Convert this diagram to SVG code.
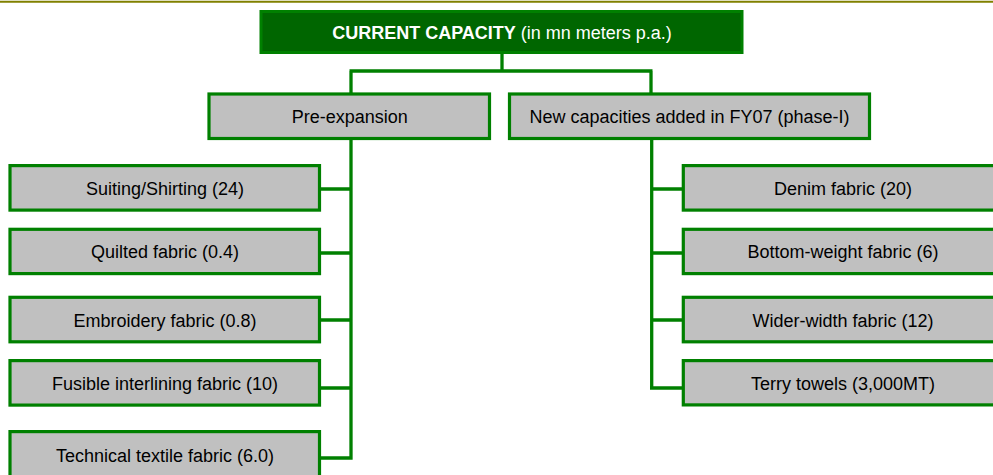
<svg xmlns="http://www.w3.org/2000/svg" width="993" height="475" viewBox="0 0 993 475">
  <style>
    .lbl { font-family: "Liberation Sans", Arial, sans-serif; font-size: 18px; fill: #000; text-anchor: middle; }
    .box { fill: #C0C0C0; stroke: #008000; stroke-width: 3.2; }
    .head { fill: #006600; stroke: #008000; stroke-width: 3; }
    .wire { fill: none; stroke: #008000; stroke-width: 3.3; stroke-linejoin: miter; }
  </style>

  <!-- rule across the top edge -->
  <line x1="0" y1="1.8" x2="993" y2="1.8" stroke="#808000" stroke-width="2"/>

  <!-- connectors -->
  <g id="connectors" class="wire">
    <path d="M502,53 V71 M349.5,71 H652.5 M351,71 V94 M651,71 V94"/>
    <path d="M351,140 V459.5 M319,189 H351 M319,253 H351 M319,320 H351 M319,388 H351 M319,458 H352.6"/>
    <path d="M651.7,140 V389.6 M651.7,189 H683 M651.7,253 H683 M651.7,320 H683 M650,388 H683"/>
  </g>

  <!-- root -->
  <g id="current-capacity">
    <rect class="head" x="261" y="11.5" width="481" height="41"/>
    <text x="502" y="39.3" font-family="'Liberation Sans', Arial, sans-serif" font-size="18" fill="#fff" text-anchor="middle"><tspan font-weight="bold">CURRENT CAPACITY</tspan> (in mn meters p.a.)</text>
  </g>

  <!-- second level -->
  <g id="pre-expansion">
    <rect class="box" x="209" y="94" width="280.5" height="44.5"/>
    <text class="lbl" x="349.7" y="122.7">Pre-expansion</text>
  </g>
  <g id="new-capacities">
    <rect class="box" x="509.5" y="94" width="360" height="44.5"/>
    <text class="lbl" x="689.5" y="122.7">New capacities added in FY07 (phase-I)</text>
  </g>

  <!-- pre-expansion items -->
  <g id="suiting-shirting">
    <rect class="box" x="10" y="165.6" width="309.5" height="44.5"/>
    <text class="lbl" x="165" y="195">Suiting/Shirting (24)</text>
  </g>
  <g id="quilted-fabric">
    <rect class="box" x="10" y="229.3" width="309.5" height="44.3"/>
    <text class="lbl" x="165" y="258.3">Quilted fabric (0.4)</text>
  </g>
  <g id="embroidery-fabric">
    <rect class="box" x="10" y="297.3" width="309.5" height="44.5"/>
    <text class="lbl" x="165" y="327.3">Embroidery fabric (0.8)</text>
  </g>
  <g id="fusible-interlining">
    <rect class="box" x="10" y="360.6" width="309.5" height="44.5"/>
    <text class="lbl" x="165" y="390">Fusible interlining fabric (10)</text>
  </g>
  <g id="technical-textile">
    <rect class="box" x="10" y="431.6" width="309.5" height="46"/>
    <text class="lbl" x="165" y="461.7">Technical textile fabric (6.0)</text>
  </g>

  <!-- phase-I items -->
  <g id="denim-fabric">
    <rect class="box" x="683.3" y="165.6" width="320" height="44.5"/>
    <text class="lbl" x="843" y="195">Denim fabric (20)</text>
  </g>
  <g id="bottom-weight-fabric">
    <rect class="box" x="683.3" y="229.3" width="320" height="44.3"/>
    <text class="lbl" x="843" y="258.3">Bottom-weight fabric (6)</text>
  </g>
  <g id="wider-width-fabric">
    <rect class="box" x="683.3" y="297.3" width="320" height="44.5"/>
    <text class="lbl" x="843" y="327.3">Wider-width fabric (12)</text>
  </g>
  <g id="terry-towels">
    <rect class="box" x="683.3" y="360.6" width="320" height="44.3"/>
    <text class="lbl" x="843" y="390">Terry towels (3,000MT)</text>
  </g>
</svg>
